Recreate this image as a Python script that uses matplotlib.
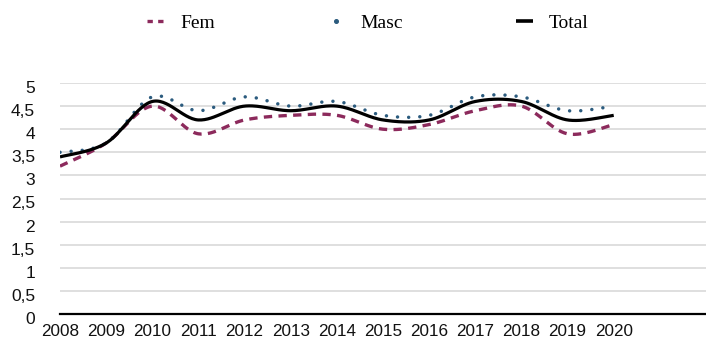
import numpy as np
import matplotlib
matplotlib.use("Agg")
import matplotlib.pyplot as plt
from matplotlib.lines import Line2D
from matplotlib.transforms import ScaledTranslation

years = ["2008", "2009", "2010", "2011", "2012", "2013", "2014",
         "2015", "2016", "2017", "2018", "2019", "2020"]
fem = [3.2, 3.7, 4.5, 3.9, 4.2, 4.3, 4.3, 4.0, 4.1, 4.4, 4.5, 3.9, 4.1]
masc = [3.5, 3.7, 4.7, 4.4, 4.7, 4.5, 4.6, 4.3, 4.3, 4.7, 4.7, 4.4, 4.5]
total = [3.4, 3.7, 4.6, 4.2, 4.5, 4.4, 4.5, 4.2, 4.2, 4.6, 4.6, 4.2, 4.3]
yticks = [0, 0.5, 1, 1.5, 2, 2.5, 3, 3.5, 4, 4.5, 5]
ytick_labels = ["0", "0,5", "1", "1,5", "2", "2,5", "3", "3,5", "4", "4,5", "5"]


def smooth(ys, n=30):
    """Bezier smoothing through every point (spreadsheet-style smoothed line)."""
    p = np.column_stack([np.arange(len(ys), dtype=float), np.asarray(ys, float)])
    xs_out, ys_out = [], []
    for i in range(len(p) - 1):
        p0 = p[i - 1] if i > 0 else p[i]
        p1, p2 = p[i], p[i + 1]
        p3 = p[i + 2] if i + 2 < len(p) else p[i + 1]
        c1 = p1 + (p2 - p0) / 6.0
        c2 = p2 - (p3 - p1) / 6.0
        t = np.linspace(0, 1, n, endpoint=(i == len(p) - 2))[:, None]
        b = ((1 - t) ** 3) * p1 + 3 * ((1 - t) ** 2) * t * c1 + 3 * (1 - t) * t ** 2 * c2 + t ** 3 * p2
        xs_out.append(b[:, 0])
        ys_out.append(b[:, 1])
    return np.concatenate(xs_out), np.concatenate(ys_out)


fig = plt.figure(figsize=(7.06, 3.42), dpi=100)
ax = fig.add_axes([60 / 706, 1 - 314 / 342, 1 - 60 / 706, (314 - 83) / 342])

fem_color = "#8c2a5c"
masc_color = "#2b5b7e"

fx, fy = smooth(fem)
mx, my = smooth(masc)
tx, ty = smooth(total)

ax.plot(fx, fy, color=fem_color, lw=2.4, linestyle=(0, (2.5, 1.9)),
        dash_capstyle="butt", zorder=3)
ax.plot(mx, my, color=masc_color, lw=2.5, linestyle=(0, (0.01, 3.2)),
        dash_capstyle="round", zorder=4)
ax.plot(tx, ty, color="black", lw=2.3, zorder=5, solid_capstyle="butt")

ax.set_xlim(0, 14)
ax.set_ylim(0, 5)
ax.set_yticks(yticks)
ax.set_yticklabels(ytick_labels)
ax.set_xticks(range(len(years)))
ax.set_xticklabels(years)

ax.grid(axis="y", color="#d9d9d9", lw=1.2)
ax.set_axisbelow(True)
for s in ["top", "right", "left"]:
    ax.spines[s].set_visible(False)
ax.spines["bottom"].set_color("black")
ax.spines["bottom"].set_linewidth(1.6)
ax.spines["bottom"].set_zorder(6)

ax.tick_params(axis="both", length=0)
ax.tick_params(axis="y", pad=18)
ax.tick_params(axis="x", pad=7)
for lab in ax.get_yticklabels():
    lab.set_fontfamily("Liberation Sans")
    lab.set_fontsize(12.5)
    lab.set_color("#111111")
    lab.set_transform(lab.get_transform() + ScaledTranslation(0, -0.04, fig.dpi_scale_trans))
for lab in ax.get_xticklabels():
    lab.set_fontfamily("Liberation Sans")
    lab.set_fontsize(12.3)
    lab.set_color("#111111")

# Compact legend keys: two short dashes, a single dot, a short solid bar
handles = [
    Line2D([], [], color=fem_color, lw=2.4, linestyle=(0, (1.6, 1.6)), dash_capstyle="butt"),
    Line2D([], [], color=masc_color, lw=0, marker="o", markersize=2.6),
    Line2D([], [], color="black", lw=2.6, solid_capstyle="butt"),
]
labels = ["Fem", "Masc", "Total"]
fig.legend(handles, labels, loc="center", ncol=3,
           bbox_to_anchor=(368 / 706, 1 - 23 / 342), frameon=False,
           prop={"family": "Liberation Serif", "size": 14},
           handlelength=0.85, handletextpad=0.85, columnspacing=5.8)

fig.savefig("out.png", dpi=100)
